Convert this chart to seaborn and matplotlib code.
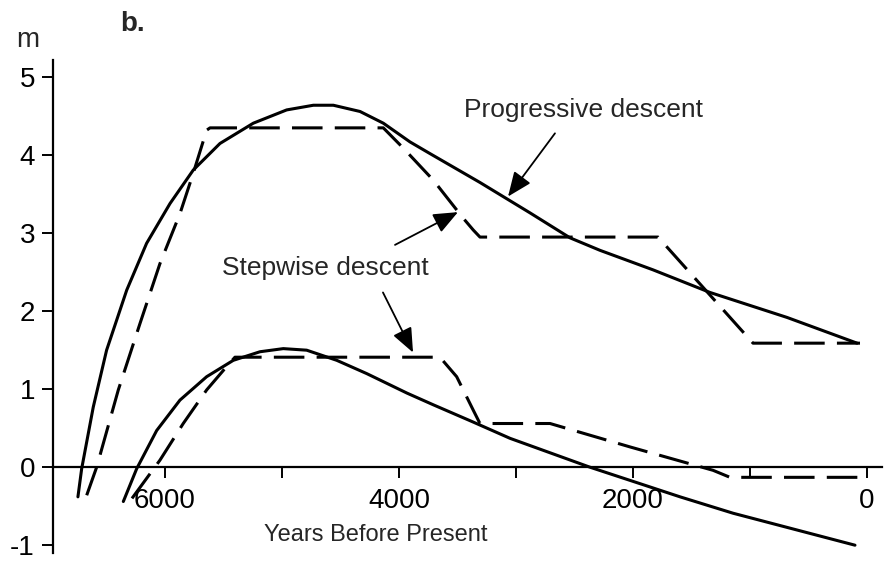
import numpy as np
import pandas as pd
import matplotlib
matplotlib.use("Agg")
import matplotlib.pyplot as plt
import seaborn as sns

# ---------------------------------------------------------------------------
# data (years BP, metres)
# ---------------------------------------------------------------------------
prog_hi_x = [6744, 6712, 6613, 6499, 6327, 6157, 5957, 5758, 5530, 5245, 4960,
             4732, 4561, 4333, 4134, 3906, 3735, 3308, 2880, 2538, 2282, 1829,
             1342, 684, 85]
prog_hi_y = [-0.38, -0.02, 0.77, 1.50, 2.27, 2.87, 3.38, 3.81, 4.15, 4.41, 4.58,
             4.64, 4.64, 4.56, 4.41, 4.17, 4.02, 3.65, 3.26, 2.94, 2.78, 2.53,
             2.24, 1.92, 1.59]

step_hi_x = [6669, 6584, 6399, 6214, 6043, 5872, 5758, 5644, 5615, 4134, 3963,
             3707, 3450, 3365, 3308, 1786, 974, 60]
step_hi_y = [-0.36, 0.00, 0.99, 1.84, 2.61, 3.25, 3.77, 4.32, 4.35, 4.35, 4.09,
             3.68, 3.19, 3.04, 2.95, 2.95, 1.59, 1.59]

prog_lo_x = [6356, 6242, 6071, 5872, 5644, 5416, 5188, 4989, 4789, 4532, 4276,
             3932, 3707, 3368, 3051, 2368, 1598, 1145, 103]
prog_lo_y = [-0.44, -0.02, 0.47, 0.86, 1.16, 1.37, 1.48, 1.52, 1.50, 1.37, 1.20,
             0.95, 0.80, 0.58, 0.37, 0.00, -0.38, -0.59, -1.00]

step_lo_x = [6282, 6043, 5844, 5644, 5473, 5402, 3650, 3507, 3365, 3308, 2709,
             2026, 1316, 1171, 34]
step_lo_y = [-0.40, 0.09, 0.56, 0.99, 1.29, 1.41, 1.41, 1.16, 0.73, 0.56, 0.56,
             0.26, -0.04, -0.13, -0.13]

x_ticks = [0, 1000, 2000, 3000, 4000, 5000, 6000]
x_tick_labels = ["0", "", "2000", "", "4000", "", "6000"]
y_ticks = [-1, 0, 1, 2, 3, 4, 5]
y_tick_labels = ["-1", "0", "1", "2", "3", "4", "5"]

# ---------------------------------------------------------------------------
sns.set_style("ticks")
plt.rcParams["font.family"] = ["Liberation Sans", "DejaVu Sans"]

fig = plt.figure(figsize=(8.86, 5.66), dpi=100)
ax = fig.add_axes([53 / 886, 1 - 553 / 566, 829 / 886, 493 / 566])

lw = 2.2
dash = (0, (10, 4))

sns.lineplot(x=prog_hi_x, y=prog_hi_y, sort=False, estimator=None,
             color="black", lw=lw, ax=ax)
sns.lineplot(x=step_hi_x, y=step_hi_y, sort=False, estimator=None,
             color="black", lw=lw, linestyle=dash, ax=ax)
sns.lineplot(x=prog_lo_x, y=prog_lo_y, sort=False, estimator=None,
             color="black", lw=lw, ax=ax)
sns.lineplot(x=step_lo_x, y=step_lo_y, sort=False, estimator=None,
             color="black", lw=lw, linestyle=dash, ax=ax)
for line in ax.lines:
    line.set_solid_joinstyle("round")
    line.set_dash_joinstyle("round")

ax.set_xlim(6957, -128)
ax.set_ylim(-1.10, 5.22)

# axes: left spine + x axis drawn through zero
sns.despine(ax=ax, top=True, right=True)
ax.spines["bottom"].set_position(("data", 0))
for side in ["left", "bottom"]:
    ax.spines[side].set_linewidth(1.6)
    ax.spines[side].set_color("black")

ax.set_xticks(x_ticks)
ax.set_xticklabels(x_tick_labels)
ax.set_yticks(y_ticks)
ax.set_yticklabels(y_tick_labels)
ax.tick_params(axis="x", direction="out", length=8, width=1.4, pad=7,
               labelsize=20, colors="black")
ax.tick_params(axis="y", direction="out", length=8, width=1.4, pad=5,
               labelsize=20, colors="black")
ax.set_xlabel("")
ax.set_ylabel("")

ax.text(4197, -0.87, "Years Before Present", fontsize=17,
        ha="center", va="center")

# annotations
ax.text(2427, 4.58, "Progressive descent", fontsize=19, ha="center", va="center")
ax.text(4632, 2.55, "Stepwise descent", fontsize=19, ha="center", va="center")

arrow_kw = dict(arrowstyle="-|>,head_length=0.6,head_width=0.25",
                mutation_scale=25, color="black", lw=1.3,
                shrinkA=0, shrinkB=0)
ax.annotate("", xy=(3068, 3.47), xytext=(2667, 4.28), arrowprops=arrow_kw)
ax.annotate("", xy=(3496, 3.27), xytext=(4034, 2.85), arrowprops=arrow_kw)
ax.annotate("", xy=(3880, 1.47), xytext=(4137, 2.24), arrowprops=arrow_kw)

fig.text(28 / 886, 1 - 40 / 566, "m", fontsize=20, ha="center", va="center")
fig.text(133 / 886, 1 - 24 / 566, "b.", fontsize=20, fontweight="bold",
         ha="center", va="center")

fig.savefig("out.png", dpi=100)
